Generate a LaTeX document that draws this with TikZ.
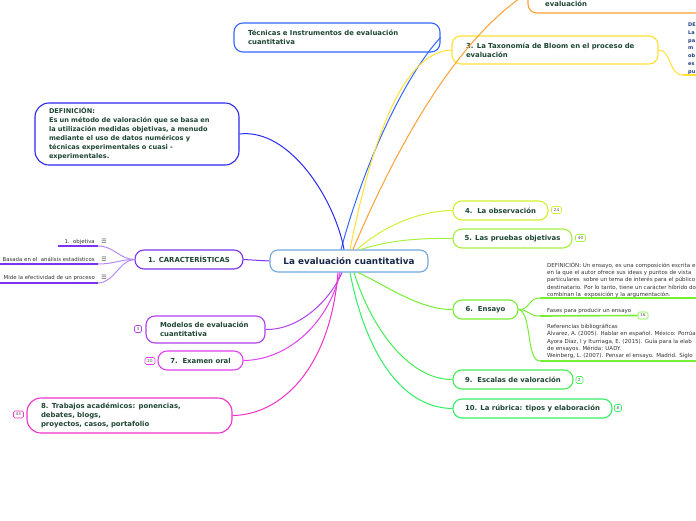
\documentclass[tikz,border=0pt]{standalone}
\usepackage{fontspec}
\setmainfont{DejaVu Sans}
\usetikzlibrary{calc}
\definecolor{txt}{HTML}{1E4634}
\definecolor{ctxt}{HTML}{17284A}
\definecolor{cblue}{HTML}{6FA8DC}
\definecolor{cTec}{HTML}{3366FF}
\definecolor{cDef}{HTML}{2A2AEE}
\definecolor{cOr}{HTML}{FFA033}
\definecolor{cYe}{HTML}{FFE033}
\definecolor{cFour}{HTML}{D4F030}
\definecolor{cFive}{HTML}{A6F040}
\definecolor{cSix}{HTML}{77EE33}
\definecolor{cNine}{HTML}{44EE55}
\definecolor{cTen}{HTML}{33EE66}
\definecolor{cCar}{HTML}{7A33EE}
\definecolor{cCarL}{HTML}{B48CF5}
\definecolor{cMod}{HTML}{B040F0}
\definecolor{cSev}{HTML}{E040F0}
\definecolor{cEig}{HTML}{F030C8}
\definecolor{smalltxt}{HTML}{333333}
\definecolor{navy}{HTML}{1F3A80}
\begin{document}
\begin{tikzpicture}[x=1pt,y=-1pt,
  topic/.style={draw, rounded corners=9pt, fill=white, line width=1.1pt, text=txt,
    font=\bfseries\fontsize{6.9}{9}\selectfont, inner ysep=0pt},
  multi/.style={align=left, inner xsep=14pt},
  single/.style={inner xsep=2pt, minimum height=19pt},
  badge/.style={draw, rounded corners=1.5pt, fill=white, line width=0.6pt, text=black!70,
    font=\fontsize{4}{4}\selectfont, minimum width=10pt, minimum height=7pt, inner sep=0.5pt},
  conn/.style={line width=1pt},
  subtxt/.style={font=\fontsize{5.5}{7.3}\selectfont, text=smalltxt, inner sep=0pt, align=left},
  cartxt/.style={font=\fontsize{5.4}{7}\selectfont, text=smalltxt, inner sep=0pt},
  uline/.style={line width=1.6pt},
  icon/.style={font=\fontsize{6}{6}\selectfont, text=black!70, inner sep=0pt},
]
\useasboundingbox (0,0) rectangle (696,520);

% central
\node[draw=cblue, line width=1.1pt, rounded corners=8pt, fill=white, text=ctxt,
  font=\bfseries\fontsize{8.8}{10}\selectfont, minimum width=158pt, minimum height=22pt,
  inner sep=0pt] (central) at (349,261) {La evaluación cuantitativa};

% topics
\node[topic, multi, draw=cTec, text width=178pt, minimum height=29pt] (tec) at (337,37.5)
  {Técnicas e Instrumentos de evaluación\\cuantitativa};
\node[topic, multi, draw=cDef, rounded corners=14pt, text width=176pt, minimum height=62pt,
  font=\bfseries\fontsize{6.6}{9}\selectfont] (def) at (137,134)
  {DEFINICIÓN:\\Es un método de valoración que se basa en\\la utilización medidas objetivas, a menudo\\mediante el uso de datos numéricos y\\técnicas experimentales o cuasi -\\experimentales.};
\node[topic, draw=cOr, minimum width=232pt, minimum height=40pt] (n2) at (644,-7) {};
\node[anchor=base west, font=\bfseries\fontsize{6.9}{9}\selectfont, text=txt, inner sep=0pt] (n2t) at (545,6) {evaluación};
\node[topic, multi, draw=cYe, text width=178pt, minimum height=28pt] (n3) at (555,50)
  {3. La Taxonomía de Bloom en el proceso de\\evaluación};
\node[topic, single, draw=cFour, minimum width=95pt] (n4) at (500.5,210.5) {4.\ \ La observación};
\node[topic, single, draw=cFive, minimum width=119pt] (n5) at (512.5,238.5) {5. Las pruebas objetivas};
\node[topic, single, draw=cSix, minimum width=65pt] (n6) at (485.5,309.5) {6.\ \ Ensayo};
\node[topic, single, draw=cNine, minimum width=120pt] (n9) at (513,379.5) {9.\ \ Escalas de valoración};
\node[topic, single, draw=cTen, minimum width=159pt] (n10) at (532.5,408.5) {10. La rúbrica: tipos y elaboración};
\node[topic, single, draw=cCar, minimum width=108pt] (car) at (189,259.5) {1. CARACTERÍSTICAS};
\node[topic, multi, draw=cMod, text width=91pt, minimum height=27pt] (mod) at (205.5,329.5)
  {Modelos de evaluación\\cuantitativa};
\node[topic, single, draw=cSev, minimum width=85pt] (n7) at (200.5,360.5) {7.\ \ Examen oral};
\node[topic, multi, draw=cEig, rounded corners=14pt, text width=177pt, minimum height=35pt] (n8) at (129.5,415.5)
  {8. Trabajos académicos: ponencias,\\debates, blogs,\\proyectos, casos, portafolio};

% badges
\node[badge, draw=cFour] (b4) at (556.5,210) {24};
\node[badge, draw=cFive] (b5) at (580.5,238) {40};
\node[badge, draw=cSix] (b16) at (643,315.5) {16};
\node[badge, draw=cNine, minimum width=7pt] (b9) at (579.5,380) {2};
\node[badge, draw=cTen, minimum width=7pt] (b10) at (618,408) {8};
\node[badge, draw=cMod, minimum width=7pt] (bmod) at (138,329) {3};
\node[badge, draw=cSev] (b7) at (150,361) {20};
\node[badge, draw=cEig] (b8) at (18.5,414.5) {43};

% hub points
\coordinate (hTec) at ($(central.north)+(-8,0)$);
\coordinate (hDef) at ($(central.north)+(-5,0)$);
\coordinate (hOr) at ($(central.north)+(4,0)$);
\coordinate (hYe) at ($(central.north)+(1,0)$);
\coordinate (hFour) at ($(central.north)+(8,0)$);
\coordinate (hFive) at ($(central.north)+(12,0)$);
\coordinate (hSix) at ($(central.south)+(9,0)$);
\coordinate (hNine) at ($(central.south)+(5,0)$);
\coordinate (hTen) at ($(central.south)+(1,0)$);
\coordinate (hMod) at ($(central.south)+(-7,0)$);
\coordinate (hSev) at ($(central.south)+(-9,0)$);
\coordinate (hEig) at ($(central.south)+(-11,0)$);

% main connectors
\draw[conn, cTec] (hTec) .. controls (368,150) and (410,70) .. (tec.east);
\draw[conn, cDef] (def.east) .. controls (290,128) and (335,200) .. (hDef);
\draw[conn, cOr] (hOr) .. controls (395,150) and (455,40) .. (n2.west);
\draw[conn, cYe] (hYe) .. controls (370,150) and (400,52) .. (n3.west);
\draw[conn, cFour] (hFour) .. controls (385,225) and (420,211) .. (n4.west);
\draw[conn, cFive] (hFive) .. controls (390,240) and (420,238) .. (n5.west);
\draw[conn, cSix] (hSix) .. controls (385,285) and (420,310) .. (n6.west);
\draw[conn, cNine] (hNine) .. controls (372,330) and (410,380) .. (n9.west);
\draw[conn, cTen] (hTen) .. controls (365,350) and (400,408) .. (n10.west);
\draw[conn, cMod] (hMod) .. controls (330,300) and (300,330) .. (mod.east);
\draw[conn, cSev] (hSev) .. controls (330,320) and (290,360) .. (n7.east);
\draw[conn, cEig] (hEig) .. controls (330,370) and (280,415) .. (n8.east);
\draw[conn, cCar] (central.west) -- (car.east);

% Taxonomia child (cut off)
\coordinate (k3) at (683,75);
\draw[conn, cYe] (n3.east) .. controls (672,50) and (668,75) .. (k3);
\draw[uline, cYe] (k3) -- (700,75);
\node[anchor=north west, font=\bfseries\fontsize{5}{7.7}\selectfont, text=navy, align=left, inner sep=0pt] (t3) at (688,23)
  {DE\\La\\pa\\m\\ob\\es\\pu};

% Ensayo children
\node[subtxt, anchor=north west] (s1) at (547,262)
  {DEFINICIÓN: Un ensayo, es una composición escrita e\\en la que el autor ofrece sus ideas y puntos de vista\\particulares\ \ sobre un tema de interés para el público\\destinatario. Por lo tanto, tiene un carácter híbrido do\\combinan la\ \ exposición y la argumentación.};
\coordinate (u1) at (540,298);
\draw[uline, cSix] (u1) -- (700,298);
\node[subtxt, anchor=base west] (s2) at (547,312) {Fases para producir un ensayo};
\coordinate (u2) at (540,316);
\draw[uline, cSix] (u2) -- (b16.west);
\node[subtxt, anchor=north west] (s3) at (547,324)
  {Referencias bibliográficas\\Álvarez, A. (2005). Hablar en español. México: Porrúa\\Ayora Díaz, I y Iturriaga, E. (2015). Guía para la elab\\de ensayos. Mérida: UADY.\\Weinberg, L. (2007). Pensar el ensayo. Madrid. Siglo};
\coordinate (u3) at (540,361);
\draw[uline, cSix] (u3) -- (700,361);
\draw[conn, cSix] (n6.east) .. controls (530,310) and (528,298) .. (u1);
\draw[conn, cSix] (n6.east) .. controls (530,310) and (528,316) .. (u2);
\draw[conn, cSix] (n6.east) .. controls (532,312) and (526,361) .. (u3);

% Caracteristicas children
\node[cartxt, anchor=base east] (c1) at (95,243) {1.\ \ objetiva};
\node[icon] (i1) at (104,241) {☰};
\coordinate (k1) at (98,246);
\draw[uline, cCar] (58,246) -- (k1);
\node[cartxt, anchor=base east] (c2) at (95,261) {Basada en el\ \ análisis estadísticos};
\node[icon] (i2) at (104,259) {☰};
\coordinate (k2) at (98,264);
\draw[uline, cCar] (-5,264) -- (k2);
\node[cartxt, anchor=base east] (c3) at (95,279) {Mide la efectividad de un proceso};
\node[icon] (i3) at (104,277) {☰};
\coordinate (k4) at (98,283);
\draw[uline, cCar] (-5,283) -- (k4);
\draw[conn, cCarL] (car.west) .. controls (120,259.5) and (114,246) .. (k1);
\draw[conn, cCarL] (car.west) .. controls (120,259.5) and (114,264) .. (k2);
\draw[conn, cCarL] (car.west) .. controls (120,259.5) and (114,283) .. (k4);
\end{tikzpicture}
\end{document}
